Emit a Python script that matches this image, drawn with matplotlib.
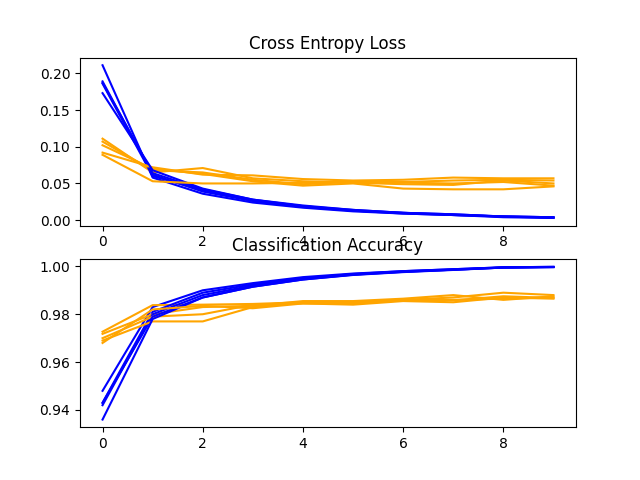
import matplotlib
matplotlib.use("Agg")
import matplotlib.pyplot as plt

epochs = list(range(10))

# loss per fold
train_loss = [
    [0.211, 0.058, 0.036, 0.024, 0.017, 0.012, 0.009, 0.007, 0.004, 0.003],
    [0.189, 0.062, 0.039, 0.026, 0.018, 0.013, 0.009, 0.007, 0.005, 0.003],
    [0.186, 0.060, 0.041, 0.027, 0.019, 0.013, 0.010, 0.007, 0.005, 0.004],
    [0.187, 0.064, 0.042, 0.028, 0.019, 0.014, 0.010, 0.008, 0.005, 0.004],
    [0.173, 0.068, 0.043, 0.028, 0.020, 0.014, 0.010, 0.008, 0.005, 0.004],
]
test_loss = [
    [0.111, 0.065, 0.071, 0.057, 0.053, 0.051, 0.049, 0.048, 0.054, 0.050],
    [0.107, 0.068, 0.065, 0.055, 0.049, 0.052, 0.051, 0.050, 0.052, 0.047],
    [0.102, 0.070, 0.063, 0.053, 0.047, 0.050, 0.043, 0.042, 0.042, 0.046],
    [0.092, 0.072, 0.062, 0.061, 0.056, 0.054, 0.055, 0.058, 0.057, 0.057],
    [0.089, 0.053, 0.050, 0.050, 0.051, 0.053, 0.052, 0.054, 0.055, 0.054],
]

# accuracy per fold
train_acc = [
    [0.948, 0.983, 0.990, 0.993, 0.9955, 0.997, 0.998, 0.9988, 0.9996, 0.9998],
    [0.943, 0.981, 0.989, 0.9925, 0.995, 0.9968, 0.998, 0.9988, 0.9996, 0.9998],
    [0.942, 0.980, 0.988, 0.992, 0.9948, 0.9966, 0.9978, 0.9986, 0.9995, 0.9997],
    [0.943, 0.979, 0.987, 0.9915, 0.9945, 0.9964, 0.9976, 0.9985, 0.9995, 0.9997],
    [0.936, 0.978, 0.987, 0.9915, 0.9945, 0.9965, 0.9977, 0.9986, 0.9995, 0.9997],
]
test_acc = [
    [0.9727, 0.9838, 0.9840, 0.9843, 0.9850, 0.9848, 0.9860, 0.9870, 0.9890, 0.9880],
    [0.9718, 0.9800, 0.9830, 0.9835, 0.9855, 0.9855, 0.9865, 0.9880, 0.9860, 0.9875],
    [0.9700, 0.9790, 0.9800, 0.9840, 0.9845, 0.9840, 0.9855, 0.9850, 0.9870, 0.9865],
    [0.9690, 0.9770, 0.9770, 0.9830, 0.9850, 0.9850, 0.9860, 0.9860, 0.9865, 0.9870],
    [0.9680, 0.9820, 0.9835, 0.9825, 0.9845, 0.9845, 0.9858, 0.9858, 0.9875, 0.9868],
]

plt.figure(figsize=(6.4, 4.8), dpi=100)
for i in range(len(train_loss)):
    plt.subplot(211)
    plt.title('Cross Entropy Loss')
    plt.plot(epochs, train_loss[i], color='blue', label='train')
    plt.plot(epochs, test_loss[i], color='orange', label='test')
    plt.subplot(212)
    plt.title('Classification Accuracy')
    plt.plot(epochs, train_acc[i], color='blue', label='train')
    plt.plot(epochs, test_acc[i], color='orange', label='test')

plt.savefig('out.png')
